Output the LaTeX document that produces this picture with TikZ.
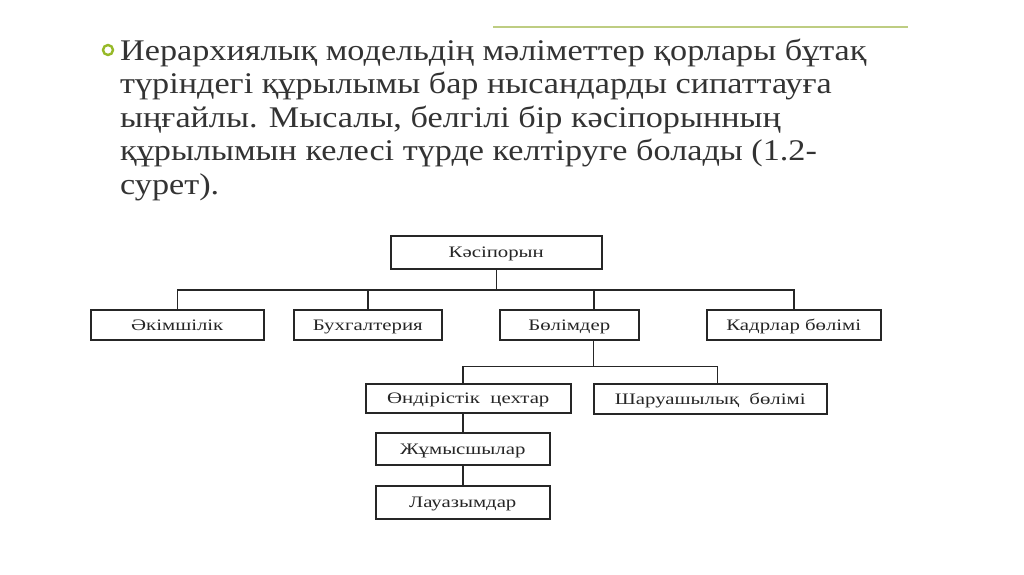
\documentclass[tikz,border=0pt]{standalone}
\usepackage{fontspec}
\setmainfont{Liberation Serif}
\newcommand{\wideb}[1]{\scalebox{1.3}[1]{#1}}
\newcommand{\wideh}[1]{\scalebox{1.14}[1]{#1}}
\begin{document}
\begin{tikzpicture}[x=1pt,y=-1pt,
  box/.style={draw=black!85,line width=1.5pt,inner sep=0pt,anchor=north west,text height=11pt,text depth=0pt,text=black!85,font=\fontsize{16}{18}\selectfont},
  conn/.style={draw=black!85,line width=1.5pt},
  head/.style={anchor=base west,inner sep=0pt,text=black!80,font=\fontsize{30}{34}\selectfont}]
\useasboundingbox (0,0) rectangle (1024,574);
\fill[white] (0,0) rectangle (1024,574);
% top rule
\coordinate (r1) at (493,27);
\coordinate (r2) at (908,27);
\draw[color={rgb,255:red,190;green,205;blue,130},line width=1.5pt] (r1) -- (r2);
% bullet
\node[draw={rgb,255:red,150;green,185;blue,40},line width=2.4pt,circle,minimum size=10pt,inner sep=0pt] (bul) at (108,50) {};
\node[head] (h1) at (120,60) {\wideh{Иерархиялық модельдің мәліметтер қорлары бұтақ}};
\node[head] (h2) at (120,93.5) {\wideh{түріндегі құрылымы бар нысандарды сипаттауға}};
\node[head] (h3) at (120,127) {\wideh{ыңғайлы. Мысалы, белгілі бір кәсіпорынның}};
\node[head] (h4) at (120,160.5) {\wideh{құрылымын келесі түрде келтіруге болады (1.2-}};
\node[head] (h5) at (120,194) {\wideh{сурет).}};
% boxes
\node[box,minimum width=211pt,minimum height=33pt] (k) at (390,235) {\wideb{Кәсіпорын}};
\node[box,minimum width=173pt,minimum height=30pt] (a) at (90,309) {\wideb{Әкімшілік}};
\node[box,minimum width=148pt,minimum height=30pt] (b) at (293,309) {\wideb{Бухгалтерия}};
\node[box,minimum width=139pt,minimum height=30pt] (c) at (499,309) {\wideb{Бөлімдер}};
\node[box,minimum width=174pt,minimum height=30pt] (d) at (706,309) {\wideb{Кадрлар бөлімі}};
\node[box,minimum width=205pt,minimum height=29pt] (e) at (365,383) {\wideb{Өндірістік\ \ цехтар}};
\node[box,minimum width=233pt,minimum height=30pt] (f) at (593,383) {\wideb{Шаруашылық\ \ бөлімі}};
\node[box,minimum width=174pt,minimum height=32pt] (g) at (375,432) {\wideb{Жұмысшылар}};
\node[box,minimum width=174pt,minimum height=33pt] (h) at (375,485) {\wideb{Лауазымдар}};
% connectors
\draw[conn] (k.south) -- ++(0,20.5) coordinate (bus1);
\draw[conn] (a.north) |- (bus1) -| (d.north);
\draw[conn] (b.north) |- (bus1);
\draw[conn] (bus1) -| ([xshift=24.5pt]c.north);
\draw[conn] ([xshift=24pt]c.south) -- ++(0,26) coordinate (bus2);
\draw[conn] ([xshift=-5.5pt]e.north) |- (bus2) -| ([xshift=7pt]f.north);
\draw[conn] ([xshift=-5.5pt]e.south) -- ([xshift=-5.5pt]e.south |- g.north);
\draw[conn] ([xshift=-5.5pt]e.south |- g.south) -- ([xshift=-5.5pt]e.south |- h.north);
\end{tikzpicture}
\end{document}
